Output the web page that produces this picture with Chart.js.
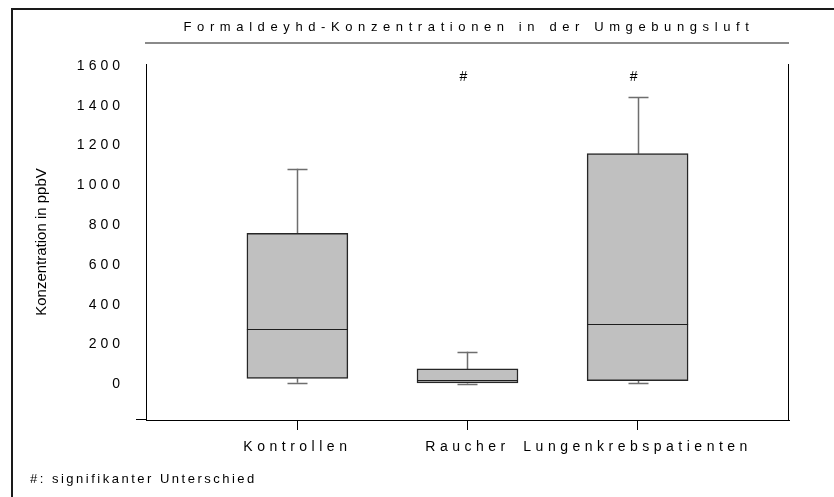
<!DOCTYPE html>
<html>
<head>
<meta charset="utf-8">
<script src="https://cdn.jsdelivr.net/npm/chart.js@4/dist/chart.umd.min.js"></script>
<style>
  html, body { margin: 0; padding: 0; background: #fff; }
  canvas { display: block; }
</style>
</head>
<body>
<canvas id="c" width="834" height="497"></canvas>
<script>
// Formaldehyde concentration per group (ppbV), summarised as box plots
const categories   = ['Kontrollen', 'Raucher', 'Lungenkrebspatienten'];
const categoryPos  = [1, 2, 3];
const whiskerLow   = [7, 3, 4];
const quartile1    = [29, 7, 18];
const medians      = [277, 20, 301];
const quartile3    = [758, 77, 1159];
const whiskerHigh  = [1083, 163, 1443];
const significant  = [false, true, true];
const yTicks       = [0, 200, 400, 600, 800, 1000, 1200, 1400, 1600];

const chartTitle = 'Formaldeyhd-Konzentrationen in der Umgebungsluft';
const yTitle     = 'Konzentration in ppbV';
const footnote   = '#: signifikanter Unterschied';

const FONT = '"Liberation Sans", Arial, Helvetica, sans-serif';

// Tick labels drawn with extra letter spacing
const spacedLabels = {
  id: 'spacedLabels',
  beforeDraw(chart, args, opts) {
    for (const [id, sp] of Object.entries(opts.spacing || {})) {
      const s = chart.scales[id];
      if (!s || s.__spaced) continue;
      const orig = s.drawLabels;
      s.drawLabels = function (area) {
        const ctx = this.ctx;
        const prev = ctx.letterSpacing;
        ctx.letterSpacing = sp;
        orig.call(this, area);
        ctx.letterSpacing = prev;
      };
      s.__spaced = true;
    }
  }
};

// Whiskers, caps and median lines of each box
const boxParts = {
  id: 'boxParts',
  beforeDatasetsDraw(chart) {
    const { ctx, scales: { x, y } } = chart;
    ctx.save();
    ctx.strokeStyle = '#6e6e6e';
    ctx.lineWidth = 1.5;
    categoryPos.forEach((c, i) => {
      const px = Math.round(x.getPixelForValue(c)) + 0.5;
      ctx.beginPath();
      ctx.moveTo(px, y.getPixelForValue(quartile3[i]));
      ctx.lineTo(px, y.getPixelForValue(whiskerHigh[i]));
      ctx.moveTo(px, y.getPixelForValue(quartile1[i]));
      ctx.lineTo(px, y.getPixelForValue(whiskerLow[i]));
      ctx.stroke();
    });
    ctx.restore();
  },
  afterDatasetsDraw(chart) {
    const { ctx, scales: { x, y } } = chart;
    const meta = chart.getDatasetMeta(0);
    ctx.save();
    categoryPos.forEach((c, i) => {
      const px = Math.round(x.getPixelForValue(c)) + 0.5;
      const half = 10;
      ctx.strokeStyle = '#6e6e6e';
      ctx.lineWidth = 1.5;
      ctx.beginPath();
      const hi = Math.round(y.getPixelForValue(whiskerHigh[i])) + 0.5;
      const lo = Math.round(y.getPixelForValue(whiskerLow[i])) + 0.5;
      ctx.moveTo(px - half, hi); ctx.lineTo(px + half, hi);
      ctx.moveTo(px - half, lo); ctx.lineTo(px + half, lo);
      ctx.stroke();

      const bar = meta.data[i];
      const w = bar.width / 2;
      const my = Math.round(y.getPixelForValue(medians[i])) + 0.5;
      ctx.strokeStyle = '#1e1e1e';
      ctx.lineWidth = 1;
      ctx.beginPath();
      ctx.moveTo(bar.x - w, my); ctx.lineTo(bar.x + w, my);
      ctx.stroke();
    });
    ctx.restore();
  }
};

// Frame, heading, significance marks and footnote
const decorations = {
  id: 'decorations',
  afterDraw(chart) {
    const { ctx, chartArea: a, scales: { x } } = chart;
    ctx.save();

    ctx.strokeStyle = '#1a1a1a';
    ctx.lineWidth = 2;
    ctx.beginPath();
    ctx.moveTo(12, 497); ctx.lineTo(12, 9); ctx.lineTo(834, 9);
    ctx.stroke();

    ctx.strokeStyle = '#000';
    ctx.lineWidth = 1;
    ctx.beginPath();
    const bx = Math.round(a.bottom) - 0.5;
    ctx.moveTo(a.left - 10, bx); ctx.lineTo(a.left, bx);
    const rx = Math.round(a.right) - 0.5;
    ctx.moveTo(rx, a.top); ctx.lineTo(rx, a.bottom);
    ctx.stroke();

    ctx.strokeStyle = '#8a8a8a';
    ctx.lineWidth = 2;
    ctx.beginPath();
    ctx.moveTo(a.left - 1, 43); ctx.lineTo(a.right, 43);
    ctx.stroke();

    ctx.fillStyle = '#000';
    ctx.textBaseline = 'middle';
    ctx.textAlign = 'center';
    ctx.font = '13px ' + FONT;
    ctx.letterSpacing = '5.6px';
    ctx.fillText(chartTitle, (a.left + a.right) / 2 + 1.5, 27);

    ctx.letterSpacing = '0px';
    ctx.font = '14px ' + FONT;
    categoryPos.forEach((c, i) => {
      if (significant[i]) ctx.fillText('#', x.getPixelForValue(c) - 4, a.top + 13);
    });

    ctx.font = '13px ' + FONT;
    ctx.textAlign = 'left';
    ctx.textBaseline = 'alphabetic';
    ctx.letterSpacing = '2.5px';
    ctx.fillText(footnote, 30, 483);
    ctx.restore();
  }
};

new Chart(document.getElementById('c'), {
  type: 'bar',
  data: {
    datasets: [{
      data: categoryPos.map((c, i) => ({ x: c, y: [quartile1[i], quartile3[i]] })),
      backgroundColor: '#c0c0c0',
      borderColor: '#262626',
      borderWidth: 1.5,
      borderSkipped: false,
      barThickness: 101
    }]
  },
  options: {
    responsive: false,
    animation: false,
    events: [],
    layout: { padding: { left: 0, right: 45, top: 64, bottom: 0 } },
    plugins: {
      legend: { display: false },
      tooltip: { enabled: false },
      title: { display: false },
      spacedLabels: { spacing: { x: '4.5px', y: '4px' } }
    },
    scales: {
      x: {
        type: 'linear',
        offset: false,
        min: 0.11,
        max: 3.89,
        afterBuildTicks: s => { s.ticks = categoryPos.map(v => ({ value: v })); },
        afterFit: s => { s.height = 77; },
        grid: { display: true, offset: false, drawOnChartArea: false, drawTicks: true, tickLength: 10, color: '#000', lineWidth: 1 },
        border: { display: true, color: '#000', width: 1 },
        ticks: {
          autoSkip: false, maxRotation: 0, padding: 9,
          color: '#000', font: { family: FONT, size: 14 },
          callback: v => categories[categoryPos.indexOf(v)] ?? ''
        }
      },
      y: {
        min: -180,
        max: 1610,
        afterBuildTicks: s => { s.ticks = yTicks.map(v => ({ value: v })); },
        afterFit: s => { s.width = 146; },
        grid: { display: false },
        border: { display: true, color: '#000', width: 1 },
        ticks: {
          padding: 14, color: '#000', font: { family: FONT, size: 14 },
          callback: v => String(v)
        },
        title: {
          display: true, text: yTitle, color: '#000',
          font: { family: FONT, size: 15 }, padding: { top: 33, bottom: 0 }
        }
      }
    }
  },
  plugins: [spacedLabels, boxParts, decorations]
});
</script>
</body>
</html>
